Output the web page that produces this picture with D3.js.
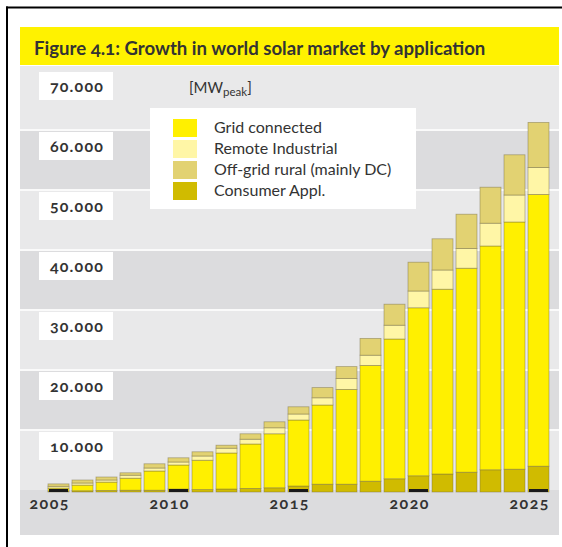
<!DOCTYPE html>
<html>
<head>
<meta charset="utf-8">
<script src="https://cdn.jsdelivr.net/npm/d3@7"></script>
<style>
  body { margin: 0; background: #fff; }
  svg { display: block; font-family: 'Lato', 'Open Sans', sans-serif; font-variant-numeric: oldstyle-nums; }
</style>
</head>
<body>
<div id="chart"></div>
<script>
// values in MWpeak
const years = d3.range(2005, 2026);
const consumer = [150, 200, 250, 300, 300, 500, 400, 500, 600, 700, 1000, 1300, 1300, 1800, 2200, 2700, 3000, 3300, 3700, 3800, 4300];
const grid = [500, 950, 1400, 2000, 3200, 4000, 4900, 6000, 7400, 9000, 11000, 13200, 15800, 19300, 23300, 28000, 30800, 34000, 37300, 41200, 45300];
const remote = [300, 350, 350, 500, 500, 500, 700, 800, 800, 1000, 1000, 1200, 1800, 1700, 2300, 2800, 3200, 3300, 3800, 4500, 4500];
const offgrid = [400, 500, 500, 400, 700, 700, 700, 500, 900, 1000, 1200, 1700, 2000, 2800, 3500, 4800, 5200, 5700, 6000, 6700, 7500];
const yTicks = [10000, 20000, 30000, 40000, 50000, 60000, 70000];
const xLabels = [2005, 2010, 2015, 2020, 2025];

const legendItems = [
  { key: 'grid', label: 'Grid connected', color: '#fff000' },
  { key: 'remote', label: 'Remote Industrial', color: '#fff6a6' },
  { key: 'offgrid', label: 'Off-grid rural (mainly DC)', color: '#e2d272' },
  { key: 'consumer', label: 'Consumer Appl.', color: '#d0bb00' }
];
// stacking order from the bottom
const stackKeys = ['consumer', 'grid', 'remote', 'offgrid'];
const colorOf = {};
legendItems.forEach(d => colorOf[d.key] = d.color);

const W = 562, H = 547;
const textCol = '#333';
const svg = d3.select('#chart').append('svg').attr('width', W).attr('height', H);

const y = d3.scaleLinear().domain([0, 70000]).range([492, 72]);
const x = d3.scaleBand().domain(years).range([46.5, 550.5]).paddingInner(0.125).paddingOuter(0.0625);
const fmt = d3.formatLocale({ decimal: ',', thousands: '.', grouping: [3], currency: ['', ''] }).format(',');

// frame
svg.append('line').attr('x1', 6).attr('x2', W).attr('y1', 7.5).attr('y2', 7.5).attr('stroke', '#000').attr('stroke-width', 2);
svg.append('line').attr('x1', 7).attr('x2', 7).attr('y1', 6.5).attr('y2', H).attr('stroke', '#000').attr('stroke-width', 2);

// title band
svg.append('rect').attr('x', 20).attr('y', 27).attr('width', 539).attr('height', 38).attr('fill', '#fff200');
svg.append('text').attr('x', 34).attr('y', 55)
  .attr('font-size', 18.6).attr('font-weight', 'bold').attr('fill', textCol)
  .text('Figure 4.1: Growth in world solar market by application');

// background bands
const bandEdges = [-1, 0].concat(yTicks.slice(0, 6));
const bandData = bandEdges.map((v, i) => ({
  top: v === 60000 ? 66 : y(v + 10000) - 2,
  bottom: v === -1 ? 535 : y(v) - 2,
  dark: i % 2 === 0
}));
bandData[0].top = y(0) - 2;
svg.append('g').selectAll('rect').data(bandData).enter().append('rect')
  .attr('x', 20).attr('width', 539)
  .attr('y', d => d.top).attr('height', d => d.bottom - d.top)
  .attr('fill', d => d.dark ? '#dcdcde' : '#e9e9ea');
svg.append('g').selectAll('rect').data(yTicks.slice(0, 6)).enter().append('rect')
  .attr('x', 20).attr('width', 539)
  .attr('y', d => y(d) - 3).attr('height', 2)
  .attr('fill', '#fafafa');

// y labels in white boxes
const yl = svg.append('g').selectAll('g').data(yTicks).enter().append('g')
  .attr('transform', d => `translate(0,${y(d)})`);
yl.append('rect').attr('x', 39).attr('y', 0).attr('width', 74).attr('height', 28).attr('fill', '#fff');
yl.append('text').attr('x', 77).attr('y', 20).attr('text-anchor', 'middle')
  .attr('font-size', 16).attr('font-weight', 'bold').attr('letter-spacing', 1.2).attr('fill', textCol)
  .text(d => fmt(d));

// unit
const unit = svg.append('text').attr('x', 189).attr('y', 93).attr('font-size', 15).attr('fill', textCol);
unit.append('tspan').text('[MW');
unit.append('tspan').attr('font-size', 11.5).attr('dy', 3).text('peak');
unit.append('tspan').attr('dy', -3).text(']');

// stacked bars
const rows = years.map((yr, i) => ({ year: yr, consumer: consumer[i], grid: grid[i], remote: remote[i], offgrid: offgrid[i] }));
const series = d3.stack().keys(stackKeys)(rows);
svg.append('g').selectAll('g').data(series).enter().append('g')
  .attr('fill', d => colorOf[d.key])
  .selectAll('rect').data(d => d).enter().append('rect')
  .attr('x', d => x(d.data.year))
  .attr('width', x.bandwidth())
  .attr('y', d => y(d[1]))
  .attr('height', d => y(d[0]) - y(d[1]))
  .attr('stroke', 'rgba(120,110,70,0.55)')
  .attr('stroke-width', 0.8);

// black marks at labelled years
svg.append('g').selectAll('rect').data(xLabels).enter().append('rect')
  .attr('x', d => x(d) + 1).attr('width', x.bandwidth() - 2)
  .attr('y', y(0) - 3).attr('height', 3).attr('fill', '#1a1a1a');

// x labels
svg.append('g').selectAll('text').data(xLabels).enter().append('text')
  .attr('x', d => x(d) + x.bandwidth() + 1).attr('y', 509).attr('text-anchor', 'end')
  .attr('font-size', 16).attr('font-weight', 'bold').attr('letter-spacing', 1.5).attr('fill', textCol)
  .text(d => d);

// legend
svg.append('rect').attr('x', 150).attr('y', 108).attr('width', 266).attr('height', 101).attr('fill', '#fff');
const lg = svg.append('g').selectAll('g').data(legendItems).enter().append('g')
  .attr('transform', (d, i) => `translate(173,${119 + i * 21})`);
lg.append('rect').attr('width', 24).attr('height', 18).attr('fill', d => d.color);
lg.append('text').attr('x', 41).attr('y', 14).attr('font-size', 16).attr('fill', textCol).text(d => d.label);
</script>
</body>
</html>
